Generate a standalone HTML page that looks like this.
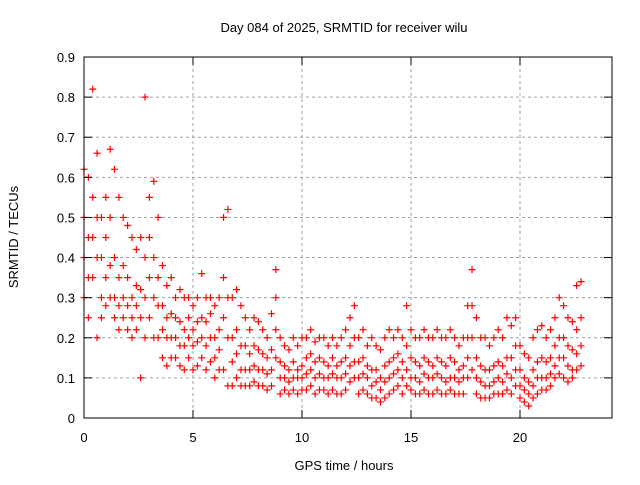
<!DOCTYPE html>
<html><head><meta charset="utf-8"><style>
body{margin:0;background:#fff;}
svg text{font-family:"Liberation Sans",sans-serif;font-size:13px;fill:#000;}
</style></head><body>
<svg width="640" height="480" xmlns="http://www.w3.org/2000/svg">
<g id="grid"></g>
<g id="marks"></g>
<rect x="84" y="57" width="528" height="361" fill="none" stroke="#000"/>
<g id="ticks"></g>
<text x="344" y="32" text-anchor="middle">Day 084 of 2025, SRMTID for receiver wilu</text>
<text x="344" y="470" text-anchor="middle">GPS time / hours</text>
<text transform="translate(18,237) rotate(-90)" text-anchor="middle">SRMTID / TECUs</text>
</svg>
<script>
const xTicks=[0,5,10,15,20];
const yTicks=[0,0.1,0.2,0.3,0.4,0.5,0.6,0.7,0.8,0.9];
const yTickLabels=["0","0.1","0.2","0.3","0.4","0.5","0.6","0.7","0.8","0.9"];
const hours=[0,0.2,0.4,0.6,0.8,1,1.2,1.4,1.6,1.8,2,2.2,2.4,2.6,2.8,3,3.2,3.4,3.6,3.8,4,4.2,4.4,4.6,4.8,5,5.2,5.4,5.6,5.8,6,6.2,6.4,6.6,6.8,7,7.2,7.4,7.6,7.8,8,8.2,8.4,8.6,8.8,9,9.2,9.4,9.6,9.8,10,10.2,10.4,10.6,10.8,11,11.2,11.4,11.6,11.8,12,12.2,12.4,12.6,12.8,13,13.2,13.4,13.6,13.8,14,14.2,14.4,14.6,14.8,15,15.2,15.4,15.6,15.8,16,16.2,16.4,16.6,16.8,17,17.2,17.4,17.6,17.8,18,18.2,18.4,18.6,18.8,19,19.2,19.4,19.6,19.8,20,20.2,20.4,20.6,20.8,21,21.2,21.4,21.6,21.8,22,22.2,22.4,22.6,22.8];
const srmtidA=[0.62,0.6,0.82,0.66,0.5,0.55,0.67,0.62,0.55,0.5,0.48,0.45,0.42,0.45,0.8,0.55,0.59,0.5,0.38,0.33,0.35,0.3,0.32,0.3,0.3,0.28,0.3,0.36,0.3,0.3,0.28,0.3,0.5,0.52,0.3,0.32,0.28,0.25,0.22,0.25,0.24,0.22,0.2,0.26,0.37,0.2,0.18,0.17,0.2,0.18,0.2,0.2,0.22,0.19,0.2,0.2,0.18,0.2,0.18,0.2,0.22,0.25,0.28,0.2,0.22,0.18,0.2,0.18,0.17,0.2,0.22,0.2,0.22,0.2,0.28,0.22,0.2,0.2,0.22,0.2,0.2,0.22,0.2,0.2,0.22,0.2,0.18,0.2,0.28,0.37,0.25,0.2,0.2,0.18,0.2,0.22,0.2,0.25,0.23,0.25,0.18,0.16,0.15,0.2,0.22,0.23,0.2,0.22,0.25,0.3,0.28,0.25,0.24,0.33,0.34];
const srmtidB=[0.5,0.45,0.55,0.5,0.4,0.45,0.5,0.4,0.35,0.38,0.35,0.3,0.33,0.32,0.4,0.45,0.4,0.35,0.28,0.25,0.26,0.25,0.24,0.22,0.25,0.22,0.24,0.25,0.24,0.26,0.2,0.22,0.35,0.3,0.2,0.22,0.18,0.18,0.16,0.18,0.17,0.16,0.15,0.17,0.3,0.14,0.13,0.12,0.14,0.12,0.13,0.15,0.16,0.14,0.15,0.14,0.13,0.15,0.13,0.14,0.15,0.18,0.2,0.14,0.15,0.13,0.12,0.12,0.1,0.13,0.14,0.15,0.16,0.14,0.18,0.15,0.14,0.13,0.15,0.14,0.13,0.15,0.14,0.13,0.15,0.14,0.12,0.13,0.2,0.28,0.15,0.13,0.12,0.12,0.13,0.14,0.13,0.15,0.15,0.18,0.12,0.1,0.09,0.12,0.14,0.15,0.14,0.15,0.18,0.2,0.2,0.18,0.17,0.22,0.25];
const srmtidC=[0.4,0.35,0.45,0.4,0.3,0.35,0.38,0.3,0.28,0.3,0.28,0.25,0.28,0.25,0.3,0.35,0.3,0.28,0.22,0.2,0.2,0.2,0.18,0.18,0.2,0.18,0.19,0.2,0.18,0.2,0.15,0.17,0.25,0.2,0.14,0.16,0.12,0.12,0.12,0.13,0.12,0.12,0.11,0.12,0.22,0.1,0.1,0.09,0.1,0.1,0.1,0.11,0.12,0.1,0.11,0.1,0.1,0.11,0.1,0.1,0.11,0.13,0.14,0.1,0.11,0.1,0.08,0.09,0.07,0.09,0.1,0.11,0.12,0.1,0.12,0.1,0.1,0.09,0.11,0.1,0.1,0.11,0.1,0.09,0.1,0.1,0.09,0.1,0.15,0.2,0.1,0.09,0.08,0.08,0.09,0.1,0.09,0.11,0.1,0.12,0.08,0.07,0.06,0.08,0.1,0.1,0.1,0.11,0.13,0.15,0.15,0.13,0.12,0.16,0.18];
const srmtidD=[0.3,0.25,0.35,0.2,0.25,0.28,0.3,0.25,0.22,0.25,0.22,0.2,0.22,0.1,0.2,0.25,0.2,0.2,0.15,0.13,0.15,0.15,0.13,0.12,0.15,0.12,0.13,0.15,0.12,0.14,0.1,0.12,0.12,0.08,0.08,0.1,0.08,0.08,0.08,0.09,0.08,0.08,0.07,0.08,0.15,0.06,0.07,0.06,0.07,0.06,0.07,0.07,0.08,0.06,0.07,0.07,0.06,0.07,0.06,0.06,0.07,0.09,0.1,0.06,0.07,0.06,0.05,0.05,0.04,0.05,0.06,0.07,0.08,0.06,0.08,0.07,0.06,0.06,0.07,0.06,0.06,0.07,0.06,0.06,0.07,0.06,0.06,0.06,0.1,0.12,0.06,0.05,0.05,0.05,0.06,0.06,0.06,0.07,0.06,0.08,0.05,0.04,0.03,0.05,0.06,0.07,0.07,0.08,0.1,0.11,0.1,0.09,0.1,0.12,0.13];

const NS='http://www.w3.org/2000/svg';
const L=84,R=612,T=57,B=418,XMAX=(R-L)/21.8,YMAX=0.9;
function xs(v){return L+v/XMAX*(R-L);}
function ys(v){return B-v/YMAX*(B-T);}
function mk(tag,attrs,parent){const e=document.createElementNS(NS,tag);for(const k in attrs)e.setAttribute(k,attrs[k]);parent.appendChild(e);return e;}
const grid=document.getElementById('grid'),ticks=document.getElementById('ticks'),marks=document.getElementById('marks');
xTicks.forEach(v=>{
  const x=xs(v);
  if(v>0){const g=mk('line',{x1:x,x2:x,y1:T,y2:B,stroke:'#a0a0a0','stroke-dasharray':'3,3'},grid);
  
  }
  mk('line',{x1:x,x2:x,y1:B,y2:B-8,stroke:'#000'},ticks);
  mk('line',{x1:x,x2:x,y1:T,y2:T+8,stroke:'#000'},ticks);
  const t=mk('text',{x:x,y:B+24,'text-anchor':'middle'},ticks);t.textContent=String(v);
  
  
});
yTicks.forEach((v,i)=>{
  const y=ys(v);
  if(v>0&&v<YMAX){const g=mk('line',{x1:L,x2:R,y1:y,y2:y,stroke:'#a0a0a0','stroke-dasharray':'3,3'},grid);
  
  }
  mk('line',{x1:L,x2:L+8,y1:y,y2:y,stroke:'#000'},ticks);
  mk('line',{x1:R,x2:R-8,y1:y,y2:y,stroke:'#000'},ticks);
  const t=mk('text',{x:L-9,y:y+5,'text-anchor':'end'},ticks);t.textContent=yTickLabels[i];
  
  
});
let d='';
[srmtidA,srmtidB,srmtidC,srmtidD].forEach(series=>{
  series.forEach((v,i)=>{const x=xs(hours[i]),y=ys(v);d+=`M${x-3.5},${y}h7M${x},${y-3.5}v7`;});
});
const p=mk('path',{d:d,stroke:'#ff0000','stroke-width':1.2,fill:'none'},marks);


</script>
</body></html>
